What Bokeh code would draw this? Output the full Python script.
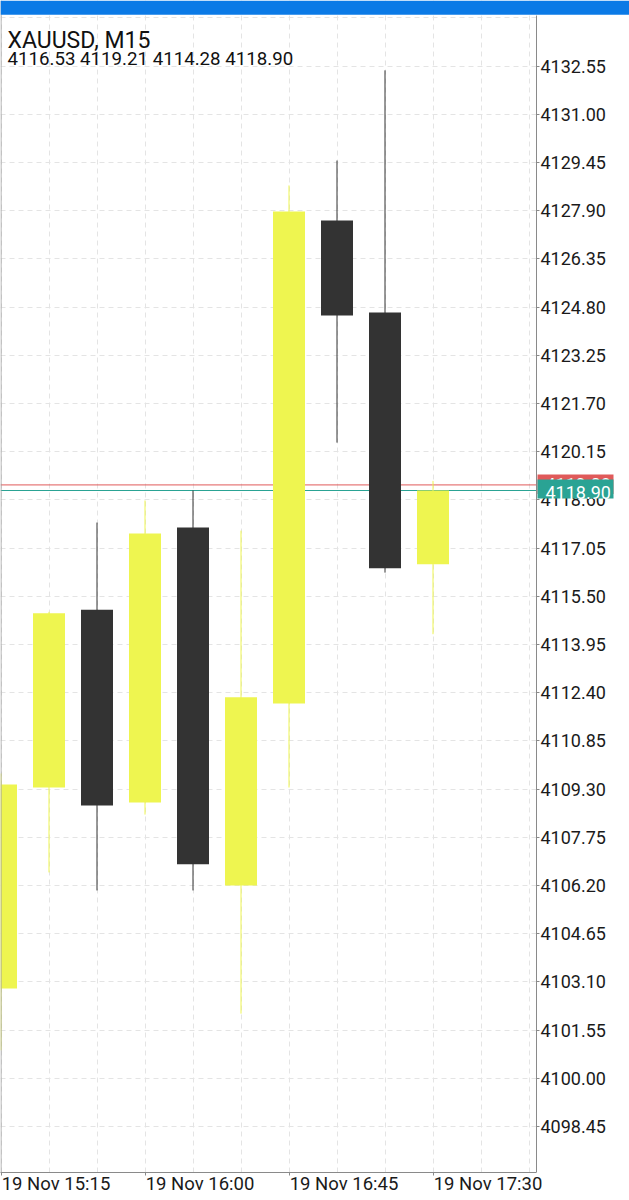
from bokeh.plotting import figure
from bokeh.models import (Range1d, FixedTicker, Span, BoxAnnotation, Label,
                          ColumnDataSource, CustomJSTickFormatter)
from bokeh.embed import file_html
from bokeh.resources import INLINE

# ---------------- data ----------------
symbol = "XAUUSD, M15"
times = ["19 Nov 15:15", "19 Nov 15:30", "19 Nov 15:45", "19 Nov 16:00", "19 Nov 16:15",
         "19 Nov 16:30", "19 Nov 16:45", "19 Nov 17:00", "19 Nov 17:15", "19 Nov 17:30"]
opens = [4102.89, 4109.35, 4115.07, 4108.87, 4117.71, 4106.20, 4112.05, 4127.58, 4124.62, 4116.53]
highs = [4109.80, 4115.00, 4117.87, 4118.58, 4118.90, 4117.61, 4128.71, 4129.51, 4132.41, 4119.21]
lows = [4100.90, 4106.62, 4106.04, 4108.48, 4106.04, 4102.08, 4109.35, 4120.44, 4116.26, 4114.28]
closes = [4109.45, 4114.95, 4108.77, 4117.52, 4106.88, 4112.25, 4127.87, 4124.53, 4116.40, 4118.90]
bid = 4118.90
ask = 4119.08
y_ticks = [4132.55, 4131.00, 4129.45, 4127.90, 4126.35, 4124.80, 4123.25, 4121.70,
           4120.15, 4118.60, 4117.05, 4115.50, 4113.95, 4112.40, 4110.85, 4109.30, 4107.75,
           4106.20, 4104.65, 4103.10, 4101.55, 4100.00, 4098.45]
y_grid_extra = [4134.10]
x_label_bars = [0, 3, 6, 9]
x_label_text = [times[i] for i in x_label_bars]

# ---------------- geometry helpers (page pixels -> data) ----------------
PX = 31.1      # pixels per price unit
BAR = 48.0     # pixels per bar


def px(page_x):
    return (page_x - 0.5) / BAR


def py(page_y):
    return 4132.55 - (page_y - 65.5) / PX


FONT = "Roboto"
YELLOW = "#eef550"
DARK = "#333333"
TEAL = "#2aa394"
RED = "#e05a5a"
GRID = "#e4e4e4"
AXIS = "#8a8a8a"

idx = list(range(len(times)))
bull = [c >= o for o, c in zip(opens, closes)]
src = ColumnDataSource(dict(
    x=idx,
    top=[max(o, c) for o, c in zip(opens, closes)],
    bottom=[min(o, c) for o, c in zip(opens, closes)],
    high=highs, low=lows,
    color=[YELLOW if b else DARK for b in bull],
))

p = figure(frame_width=629, frame_height=1172,
           x_range=Range1d(px(0), px(629)), y_range=Range1d(py(1172), py(0)),
           output_backend="svg", toolbar_location=None,
           y_axis_location="right",
           min_border_left=0, min_border_top=0, min_border_right=0, min_border_bottom=28,
           outline_line_color=None, background_fill_color="white", border_fill_color="white")

# grids
p.xgrid.ticker = FixedTicker(ticks=list(range(0, 12)))
p.xgrid.grid_line_color = GRID
p.xgrid.grid_line_dash = "5 4"
p.ygrid.ticker = FixedTicker(ticks=y_grid_extra + y_ticks)
p.ygrid.grid_line_color = GRID
p.ygrid.grid_line_dash = "5 4"

# right price axis, pinned at the right edge of the chart area
yax = p.yaxis[0]
yax.fixed_location = px(536)
yax.bounds = (py(1172), py(15))
yax.ticker = FixedTicker(ticks=y_ticks)
yax.formatter = CustomJSTickFormatter(code="return tick.toFixed(2)")
yax.axis_line_color = AXIS
yax.major_tick_line_color = AXIS
yax.major_tick_out = 3
yax.major_tick_in = 0
yax.minor_tick_line_color = None
yax.major_label_standoff = 1
yax.major_label_text_font = FONT
yax.major_label_text_font_size = "18px"
yax.major_label_text_color = "#1a1a1a"

# bottom time axis: tick marks at the bars, labels left-aligned to them
half_w = 53.5
label_pos = [b + (1.5 + half_w) / BAR for b in x_label_bars]
xax = p.xaxis[0]
xax.bounds = (px(0), px(536))
xax.ticker = FixedTicker(ticks=label_pos, minor_ticks=x_label_bars)
xax.formatter = CustomJSTickFormatter(args=dict(labels=x_label_text), code="return labels[index]")
xax.axis_line_color = AXIS
xax.major_tick_line_color = None
xax.major_tick_out = 0
xax.major_tick_in = 0
xax.minor_tick_line_color = AXIS
xax.minor_tick_out = 3
xax.minor_tick_in = 0
xax.major_label_standoff = -3
xax.major_label_text_font = FONT
xax.major_label_text_font_size = "18.5px"
xax.major_label_text_color = "#1a1a1a"

# bid / ask lines (under the white axis strip)
p.add_layout(Span(location=ask, dimension="width", line_color=RED, line_width=1, level="underlay"))
p.add_layout(Span(location=bid, dimension="width", line_color=TEAL, line_width=1, level="underlay"))

# white strip behind the price scale
p.add_layout(BoxAnnotation(left=px(536.5), fill_color="white", fill_alpha=1, line_color=None,
                           level="glyph"))

# candles
p.segment(x0="x", y0="low", x1="x", y1="high", color="color", line_width=1, source=src)
p.vbar(x="x", top="top", bottom="bottom", width=32 / BAR, fill_color="color",
       line_color=None, source=src)

# price tags on the axis
p.add_layout(BoxAnnotation(left=px(537), right=px(613), top=ask + 10.3 / PX, bottom=ask - 9 / PX,
                           fill_color=RED, fill_alpha=1, line_color=None, level="overlay"))
p.add_layout(Label(x=px(545), y=ask, text=f"{ask:.2f}", text_font=FONT, text_font_size="18px",
                   text_color="white", text_baseline="middle", level="overlay"))
p.add_layout(BoxAnnotation(left=px(537), right=px(613), top=bid + 11 / PX, bottom=bid - 8 / PX,
                           fill_color=TEAL, fill_alpha=1, line_color=None, level="overlay"))
p.add_layout(Label(x=px(545), y=bid - 1.5 / PX, text=f"{bid:.2f}", text_font=FONT,
                   text_font_size="18px", text_color="white", text_baseline="middle",
                   level="overlay"))

# header texts
p.add_layout(Label(x=px(7), y=py(39.5), text=symbol, text_font=FONT, text_font_size="23px",
                   text_color="#111111", text_baseline="alphabetic", level="overlay"))
ohlc = f"{opens[-1]:.2f} {highs[-1]:.2f} {lows[-1]:.2f} {closes[-1]:.2f}"
p.add_layout(Label(x=px(7), y=py(58), text=ohlc, text_font=FONT, text_font_size="18.7px",
                   text_color="#111111", text_baseline="alphabetic", level="overlay"))

# left border and blue status bar on top
p.add_layout(Span(location=px(0.5), dimension="height", line_color="#a0a0a0", line_width=1,
                  level="overlay"))
p.add_layout(BoxAnnotation(bottom=py(14.3), fill_color="#0b7ae6", fill_alpha=1, line_color=None,
                           level="overlay"))

open("out.html", "w").write(file_html(p, INLINE))
